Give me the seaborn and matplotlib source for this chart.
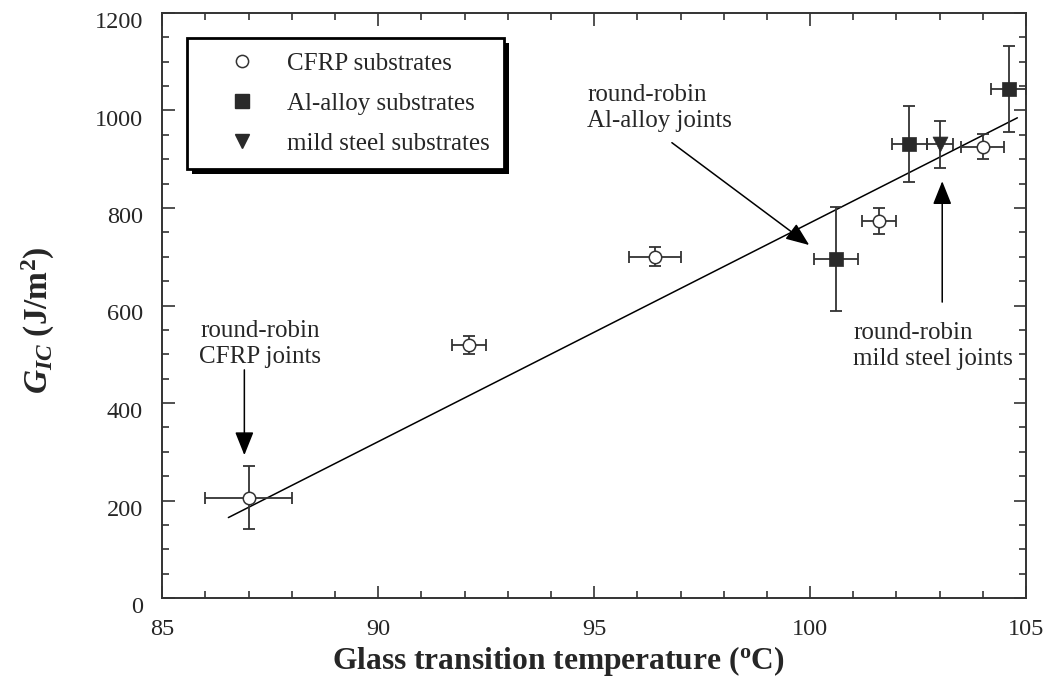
import numpy as np
import pandas as pd
import matplotlib
matplotlib.use("Agg")
import matplotlib.pyplot as plt
import matplotlib.transforms as mtransforms
from matplotlib.lines import Line2D
from matplotlib.patches import Rectangle
import seaborn as sns

# Glass transition temperature (deg C) and fracture energy G_IC (J/m^2)
cfrp_tg = [87.0, 92.1, 96.4, 101.6, 104.0]
cfrp_tg_err = [1.0, 0.4, 0.6, 0.4, 0.5]
cfrp_gic = [206, 519, 700, 773, 926]
cfrp_gic_err = [65, 18, 20, 27, 25]

al_tg = [100.6, 102.3, 104.6]
al_tg_err = [0.5, 0.4, 0.4]
al_gic = [696, 931, 1044]
al_gic_err = [107, 78, 88]

steel_tg = [103.0]
steel_tg_err = [0.3]
steel_gic = [931]
steel_gic_err = [48]

# Linear trend line end points
fit_tg = [86.53, 104.8]
fit_gic = [165, 985]

legend_labels = ["CFRP substrates", "Al-alloy substrates", "mild steel substrates"]

sns.set_theme(style="ticks")
plt.rcParams["font.family"] = ["Liberation Serif", "DejaVu Serif"]
plt.rcParams["mathtext.fontset"] = "custom"
plt.rcParams["mathtext.rm"] = "Liberation Serif:bold"
plt.rcParams["mathtext.bf"] = "Liberation Serif:bold"
plt.rcParams["mathtext.it"] = "Liberation Serif:italic:bold"

fig = plt.figure(figsize=(10.5, 6.95), dpi=100)
ax = fig.add_axes([162.3 / 1050, 1 - 598 / 695, (1026 - 162.3) / 1050, (598 - 13) / 695])

ink = "#2a2a2a"

# trend line
sns.lineplot(x=fit_tg, y=fit_gic, ax=ax, color="black", linewidth=1.1, zorder=2)

# error bars
for tg, tge, g, ge in [(cfrp_tg, cfrp_tg_err, cfrp_gic, cfrp_gic_err),
                       (al_tg, al_tg_err, al_gic, al_gic_err),
                       (steel_tg, steel_tg_err, steel_gic, steel_gic_err)]:
    ax.errorbar(tg, g, xerr=tge, yerr=ge, fmt="none", ecolor="#333333",
                elinewidth=1.3, capsize=4, capthick=1.3, zorder=3)

# markers
sns.scatterplot(x=cfrp_tg, y=cfrp_gic, ax=ax, marker="o", s=80, color="white",
                edgecolor="#333333", linewidth=1.1, zorder=4)
sns.scatterplot(x=al_tg, y=al_gic, ax=ax, marker="s", s=115, color=ink,
                edgecolor=ink, linewidth=0.5, zorder=4)
sns.scatterplot(x=steel_tg, y=steel_gic, ax=ax, marker="v", s=115, color=ink,
                edgecolor=ink, linewidth=0.5, zorder=4)

ax.set_xlim(85, 105)
ax.set_ylim(0, 1200)
ax.set_xticks(np.arange(85, 106, 5))
ax.set_yticks(np.arange(0, 1201, 200))
ax.set_xticks(np.arange(85, 106, 1), minor=True)
ax.set_yticks(np.arange(0, 1201, 50), minor=True)
ax.tick_params(which="both", direction="in", top=True, right=True,
               color="#333333", width=1.2)
ax.tick_params(which="major", length=9)
ax.tick_params(which="minor", length=5)
ax.tick_params(axis="x", which="major", labelsize=17.5, pad=15)
ax.tick_params(axis="y", which="major", labelsize=17.5, pad=14)
for sp in ax.spines.values():
    sp.set_color("#333333")
    sp.set_linewidth(1.4)

# y tick labels sit slightly below their ticks
drop = mtransforms.ScaledTranslation(0, -7 / 100, fig.dpi_scale_trans)
for lab in ax.get_yticklabels():
    lab.set_transform(lab.get_transform() + drop)

ax.set_xlabel(r"Glass transition temperature ($^{\mathbf{o}}$C)",
              fontsize=22.7, fontweight="bold")
ax.set_ylabel(r"$\mathit{G}_{\mathit{IC}}$ (J/m$^{\mathbf{2}}$)",
              fontsize=24, fontweight="bold")
ax.xaxis.set_label_coords(0.459, -0.079)
ax.yaxis.set_label_coords(-0.122, 0.475)

# annotations
arrow = dict(arrowstyle="-|>,head_length=0.8,head_width=0.32", color="black",
             lw=1.1, shrinkA=0, shrinkB=0, mutation_scale=18)
ax.text(87.26, 521, "round-robin\nCFRP joints", fontsize=18, ha="center",
        va="center", multialignment="center")
ax.annotate("", xy=(86.9, 293), xytext=(86.9, 468), arrowprops=arrow)

ax.text(94.84, 1005, "round-robin\nAl-alloy joints", fontsize=18, ha="left",
        va="center")
ax.annotate("", xy=(99.98, 724), xytext=(96.8, 934), arrowprops=arrow)

ax.text(101.0, 517, "round-robin\nmild steel joints", fontsize=18, ha="left",
        va="center")
ax.annotate("", xy=(103.06, 855), xytext=(103.06, 607), arrowprops=arrow)

# legend with a solid drop shadow
handles = [
    Line2D([], [], marker="o", ls="none", ms=8.8, mfc="white", mec="#333333", mew=1.1),
    Line2D([], [], marker="s", ls="none", ms=10, mfc=ink, mec=ink),
    Line2D([], [], marker="v", ls="none", ms=10, mfc=ink, mec=ink),
]
leg = ax.legend(handles, legend_labels, loc="upper left",
                bbox_to_anchor=(0.0286, 0.957), borderaxespad=0, fontsize=18,
                frameon=True, fancybox=False, shadow=False, handlelength=3.25,
                handletextpad=0.2, labelspacing=0.7, borderpad=0.56)
leg.get_frame().set_edgecolor("black")
leg.get_frame().set_linewidth(2)
leg.get_frame().set_alpha(1)
leg.set_zorder(6)

fig.canvas.draw()
bb = leg.get_window_extent().transformed(ax.transAxes.inverted())
dx = 5 / ax.get_window_extent().width
dy = 5 / ax.get_window_extent().height
shadow = Rectangle((bb.x0 + dx, bb.y0 - dy), bb.width, bb.height,
                   transform=ax.transAxes, facecolor="black", edgecolor="none",
                   zorder=5.5, clip_on=False)
ax.add_patch(shadow)

fig.savefig("out.png", dpi=100)
